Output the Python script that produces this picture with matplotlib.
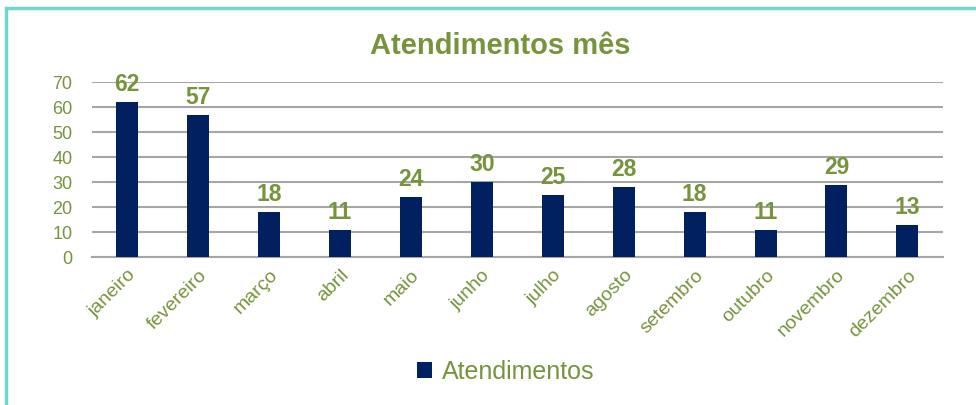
import matplotlib
matplotlib.use("Agg")
import matplotlib.pyplot as plt
from matplotlib.patches import Rectangle

# data
months = ["janeiro", "fevereiro", "março", "abril", "maio", "junho",
          "julho", "agosto", "setembro", "outubro", "novembro", "dezembro"]
atendimentos = [62, 57, 18, 11, 24, 30, 25, 28, 18, 11, 29, 13]
y_ticks = [0, 10, 20, 30, 40, 50, 60, 70]

green = "#77933c"
navy = "#002060"
grid_gray = "#a6a6a6"

plt.rcParams["font.family"] = ["Liberation Sans", "DejaVu Sans"]

fig = plt.figure(figsize=(9.76, 4.05), dpi=100)
ax = fig.add_axes([0.094, 0.3654, 0.872, 0.4321])

x = range(len(months))
bars = ax.bar(x, atendimentos, width=0.31, color=navy, label="Atendimentos", zorder=3)

for b, v in zip(bars, atendimentos):
    ax.annotate(str(v), (b.get_x() + b.get_width() / 2, v), xytext=(0, 4),
                textcoords="offset points", ha="center", va="bottom",
                fontsize=16.5, fontweight="bold", color=green, zorder=4)

ax.set_xlim(-0.5, len(months) - 0.5)
ax.set_ylim(0, 70)
ax.set_yticks(y_ticks)
ax.set_xticks(list(x))
ax.set_xticklabels(months, rotation=45, ha="right", rotation_mode="anchor")
ax.tick_params(axis="y", length=0, labelsize=13, labelcolor=green, pad=14)
ax.tick_params(axis="x", length=0, labelsize=14, labelcolor=green, pad=7)
ax.yaxis.grid(True, color=grid_gray, linewidth=1.5, zorder=0)
for s in ["top", "right", "left"]:
    ax.spines[s].set_visible(False)
ax.spines["bottom"].set_color(grid_gray)
ax.spines["bottom"].set_linewidth(1.5)

fig.text(0.513, 1 - 46 / 405, "Atendimentos mês", ha="center", va="center",
         fontsize=21, fontweight="bold", color=green)

leg = fig.legend(loc="center", bbox_to_anchor=(506 / 976, 1 - 372 / 405),
                 frameon=False, fontsize=18, handlelength=0.6, handleheight=0.6,
                 handletextpad=0.4)
for t in leg.get_texts():
    t.set_color(green)

# border of the chart area
fig.patches.append(Rectangle((6 / 976, -0.01), 1.0, 1 - 8 / 405 + 0.01,
                             transform=fig.transFigure, fill=False,
                             edgecolor="#6fd6cc", linewidth=2.5))

fig.savefig("out.png", dpi=100)
